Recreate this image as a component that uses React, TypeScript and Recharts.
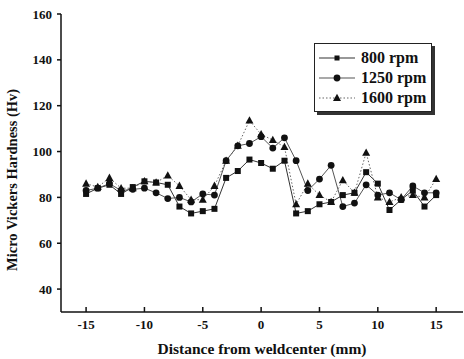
import React from "react";
import { LineChart, Line, XAxis, YAxis, Legend } from "recharts";

const distance = [
  -15, -14, -13, -12, -11, -10, -9, -8, -7, -6, -5, -4, -3, -2, -1, 0, 1, 2, 3, 4, 5, 6, 7, 8, 9, 10, 11, 12, 13, 14, 15,
];
const rpm800 = [
  81.5, 84, 85.5, 81.5, 84.5, 87, 86.5, 85.5, 76, 73, 74, 75, 88.5, 91.5, 96.5, 95, 92.5, 96, 73, 74, 77, 78, 81, 82, 91, 86, 74.5, 79, 83, 76, 81,
];
const rpm1250 = [
  83, 84, 86, 83, 83.5, 84, 82, 79.5, 80, 78, 81.5, 81, 96, 102.5, 103.5, 106.5, 101.5, 106, 96, 83, 88, 94, 76, 77.5, 85.5, 81, 82, 79, 85, 82, 82,
];
const rpm1600 = [
  86, 84.5, 88.5, 84, 84, 87, 86.5, 89.5, 85, 79, 79, 85, 96, 102.5, 113.5, 107.5, 105, 102, 77, 86, 81, 78, 87.5, 82, 99.5, 80, 78, 80, 81, 80, 88,
];
const xTicks = [-15, -10, -5, 0, 5, 10, 15];
const yTicks = [40, 60, 80, 100, 120, 140, 160];

const rows = distance.map((d, i) => ({
  d,
  r800: rpm800[i],
  r1250: rpm1250[i],
  r1600: rpm1600[i],
}));

const FONT = '"Liberation Serif", "DejaVu Serif", serif';
const INK = "#111";

function Square({ cx, cy, size = 6 }: { cx: number; cy: number; size?: number }) {
  return <rect x={cx - size / 2} y={cy - size / 2} width={size} height={size} fill={INK} />;
}
function Circle({ cx, cy }: { cx: number; cy: number }) {
  return <circle cx={cx} cy={cy} r={3.4} fill={INK} />;
}
function Tri({ cx, cy }: { cx: number; cy: number }) {
  return <polygon points={`${cx},${cy - 4.3} ${cx + 4},${cy + 3} ${cx - 4},${cy + 3}`} fill={INK} />;
}

const dotOf = (Shape: any) => (p: any) =>
  p.cx == null ? <g key={p.key} /> : <Shape key={p.key} cx={p.cx} cy={p.cy} />;

const series = [
  { key: "r800", name: "800 rpm", Shape: Square, stroke: "#333", dash: undefined },
  { key: "r1250", name: "1250 rpm", Shape: Circle, stroke: "#555", dash: undefined },
  { key: "r1600", name: "1600 rpm", Shape: Tri, stroke: "#666", dash: "1.5 2" },
];

function LegendBox() {
  return (
    <div
      style={{
        border: "1.5px solid #222",
        boxShadow: "3px 3px 0 #333",
        background: "#fff",
        width: 116,
        padding: "4px 0 3px 0",
      }}
    >
      {series.map((s) => (
        <div key={s.key} style={{ display: "flex", alignItems: "center", height: 20 }}>
          <svg width={42} height={12} style={{ marginLeft: 2 }}>
            <line x1={2} x2={38} y1={6} y2={6} stroke={s.stroke} strokeWidth={1.2} strokeDasharray={s.dash} />
            <s.Shape cx={20} cy={6} size={5} />
          </svg>
          <span style={{ fontFamily: FONT, fontWeight: "bold", fontSize: 16, color: INK, marginLeft: 2 }}>
            {s.name}
          </span>
        </div>
      ))}
    </div>
  );
}

export default function App() {
  return (
    <div style={{ position: "absolute", left: 0, top: 0, width: 464, height: 359, background: "#fff" }}>
      <LineChart width={464} height={359} data={rows} margin={{ top: 14, right: 1, left: 0, bottom: 0 }}>
        <XAxis
          dataKey="d"
          type="number"
          domain={[-17.15, 17.3]}
          ticks={xTicks}
          allowDataOverflow
          height={47}
          tickSize={-5}
          tickMargin={13}
          stroke={INK}
          strokeWidth={1.5}
          tick={{ fill: INK, fontFamily: FONT, fontWeight: "bold", fontSize: 13 }}
          label={{
            value: "Distance from weldcenter (mm)",
            position: "insideBottom",
            offset: 5,
            fill: INK,
            fontFamily: FONT,
            fontWeight: "bold",
            fontSize: 15.5,
          }}
        />
        <XAxis xAxisId="top" dataKey="d" type="number" domain={[-17.15, 17.3]} orientation="top" height={0} tick={false} tickLine={false} stroke={INK} strokeWidth={2.5} />
        <YAxis
          type="number"
          domain={[30, 160]}
          ticks={yTicks}
          allowDataOverflow
          width={61}
          tickSize={4}
          tickMargin={5}
          stroke={INK}
          strokeWidth={1.5}
          tick={{ fill: INK, fontFamily: FONT, fontWeight: "bold", fontSize: 13 }}
          label={{
            value: "Micro Vickers Hardness (Hv)",
            angle: -90,
            position: "insideLeft",
            offset: 12,
            dy: 108,
            fill: INK,
            fontFamily: FONT,
            fontWeight: "bold",
            fontSize: 14.5,
          }}
        />
        <YAxis yAxisId="right" orientation="right" type="number" domain={[30, 160]} ticks={yTicks} width={0} mirror tick={false} tickSize={5} stroke={INK} strokeWidth={1.5} />
        <Legend
          layout="vertical"
          verticalAlign="middle"
          align="center"
          content={() => <LegendBox />}
          wrapperStyle={{ left: 314, top: 43, width: 120 }}
        />
        {series.map((s) => (
          <Line
            key={s.key}
            dataKey={s.key}
            name={s.name}
            type="linear"
            stroke={s.stroke}
            strokeWidth={1}
            strokeDasharray={s.dash}
            dot={dotOf(s.Shape)}
            activeDot={false}
            isAnimationActive={false}
          />
        ))}
      </LineChart>
    </div>
  );
}
